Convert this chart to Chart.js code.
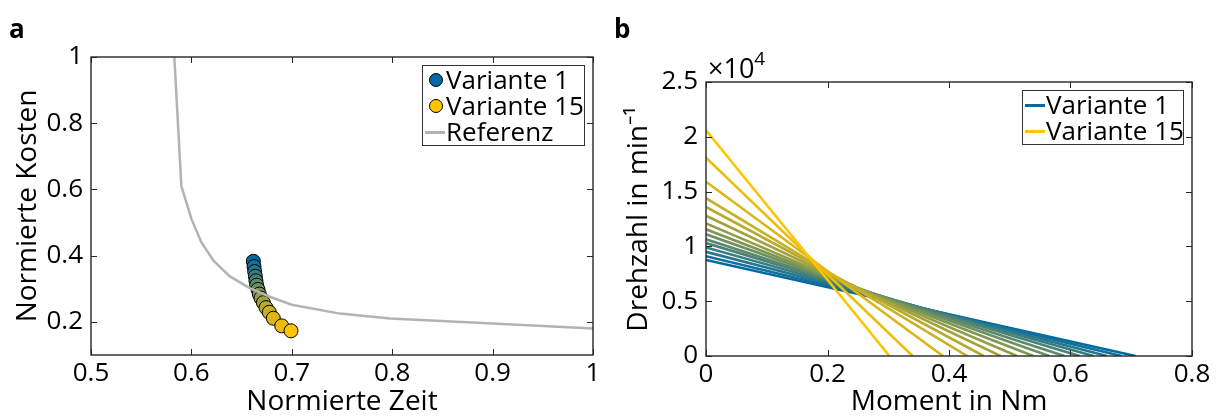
<!DOCTYPE html>
<html>
<head>
<meta charset="utf-8">
<script src="https://cdn.jsdelivr.net/npm/chart.js@4.4.0/dist/chart.umd.min.js"></script>
<style>
  body { margin: 0; width: 1219px; height: 419px; background: #fff; position: relative; overflow: hidden; font-family: "Open Sans", sans-serif; color: #000; }
  canvas { position: absolute; top: 0; }
  #chartA { left: 0; }
  #chartB { left: 610px; }
  .tag { position: absolute; font-weight: bold; font-size: 26px; line-height: 26px; }
  .legend { position: absolute; border: 1px solid #333; background: #fff; font-size: 26px; line-height: 26px; box-sizing: border-box; padding-top: 0px; }
  .legend .row { position: relative; padding-left: 23px; white-space: nowrap; height: 26px; }
  .legend .dot { position: absolute; left: 6px; top: 7px; width: 14px; height: 14px; border-radius: 50%; border: 1px solid #000; box-sizing: border-box; }
  .legend .ln { position: absolute; left: 2px; top: 13px; width: 20px; height: 3px; }
  .expo { position: absolute; left: 708px; top: 47px; font-size: 27px; line-height: 28px; }
  .expo sup { font-size: 19px; position: relative; top: -3px; }
</style>
</head>
<body>
<canvas id="chartA" width="610" height="419"></canvas>
<canvas id="chartB" width="609" height="419"></canvas>
<div class="tag" style="left:9px;top:15px">a</div>
<div class="tag" style="left:614px;top:15px">b</div>
<div class="expo">&times;10<sup>4</sup></div>

<div class="legend" style="left:422px;top:65px;width:163px;height:81px">
  <div class="row"><span class="dot" style="background:rgb(0,106,166)"></span>Variante 1</div>
  <div class="row"><span class="dot" style="background:rgb(255,195,0)"></span>Variante 15</div>
  <div class="row"><span class="ln" style="background:#b3b3b3"></span>Referenz</div>
</div>
<div class="legend" style="left:1022px;top:90px;width:162px;height:55px">
  <div class="row"><span class="ln" style="background:rgb(0,106,166)"></span>Variante 1</div>
  <div class="row"><span class="ln" style="background:rgb(255,195,0)"></span>Variante 15</div>
</div>

<script>
// --- panel a: normalised time vs. cost ---
const refTime = [0.583, 0.590, 0.600, 0.610, 0.622, 0.638, 0.658, 0.678, 0.700, 0.748, 0.798, 0.900, 1.000];
const refCost = [1.000, 0.610, 0.511, 0.440, 0.385, 0.338, 0.302, 0.276, 0.252, 0.225, 0.210, 0.195, 0.180];

const varTime = [0.6617, 0.6624, 0.6630, 0.6637, 0.6643, 0.6650, 0.6663, 0.6676, 0.6693, 0.6717, 0.6743, 0.6776, 0.6816, 0.6900, 0.6992];
const varCost = [0.383, 0.367, 0.352, 0.338, 0.324, 0.311, 0.298, 0.284, 0.272, 0.258, 0.243, 0.229, 0.211, 0.188, 0.173];

const timeTicks = [0.5, 0.6, 0.7, 0.8, 0.9, 1];
const costTicks = [0.2, 0.4, 0.6, 0.8, 1];

// --- panel b: speed/torque lines per variant (variant 1 .. 15) ---
const stallSpeed = [8760, 9100, 9500, 9900, 10300, 10650, 11100, 11560, 12100, 12800, 13600, 14400, 15900, 18100, 20600];
const maxTorque = [0.707, 0.684, 0.660, 0.638, 0.615, 0.590, 0.565, 0.539, 0.512, 0.485, 0.457, 0.430, 0.390, 0.340, 0.302];

const torqueTicks = [0, 0.2, 0.4, 0.6, 0.8];
const speedTicks = [0, 5000, 10000, 15000, 20000, 25000];

// colour ramp blue -> yellow
const blue = [0, 106, 166];
const yellow = [255, 195, 0];
function ramp(i, n) {
  const f = i / (n - 1);
  const c = blue.map((b, k) => Math.round(b + (yellow[k] - b) * f));
  return `rgb(${c[0]},${c[1]},${c[2]})`;
}
const varColors = varTime.map((_, i) => ramp(i, varTime.length));

const tickFont = { family: "Open Sans", size: 26 };
const titleFont = { family: "Open Sans", size: 28 };

// box around plot + inward ticks like the original
const boxTicks = {
  id: "boxTicks",
  afterDatasetsDraw(chart) {
    const { ctx, chartArea: a, scales } = chart;
    ctx.save();
    ctx.strokeStyle = "#262626";
    ctx.lineWidth = 1.4;
    ctx.strokeRect(a.left, a.top, a.right - a.left, a.bottom - a.top);
    ctx.lineWidth = 1;
    ctx.beginPath();
    scales.x.ticks.forEach(t => {
      const px = Math.round(scales.x.getPixelForValue(t.value)) + 0.5;
      ctx.moveTo(px, a.bottom); ctx.lineTo(px, a.bottom - 6);
      ctx.moveTo(px, a.top); ctx.lineTo(px, a.top + 6);
    });
    scales.y.ticks.forEach(t => {
      const py = Math.round(scales.y.getPixelForValue(t.value)) + 0.5;
      ctx.moveTo(a.left, py); ctx.lineTo(a.left + 6, py);
      ctx.moveTo(a.right, py); ctx.lineTo(a.right - 6, py);
    });
    ctx.stroke();
    ctx.restore();
  }
};

function axisX(min, max, ticks, title, h) {
  return {
    type: "linear", min: min, max: max,
    afterBuildTicks: s => { s.ticks = ticks.map(v => ({ value: v })); },
    ticks: { font: tickFont, color: "#000", padding: 3, maxRotation: 0, callback: v => String(v) },
    grid: { display: false, drawTicks: false },
    border: { display: false },
    title: { display: true, text: title, font: titleFont, color: "#000", padding: 0 },
    afterFit: s => { s.height = h; }
  };
}
function axisY(min, max, ticks, title, w, fmt) {
  return {
    type: "linear", min: min, max: max,
    afterBuildTicks: s => { s.ticks = ticks.map(v => ({ value: v })); },
    ticks: { font: tickFont, color: "#000", padding: 8, callback: fmt },
    grid: { display: false, drawTicks: false },
    border: { display: false },
    title: { display: true, text: title, font: titleFont, color: "#000", padding: 0 },
    afterFit: s => { s.width = w; }
  };
}

new Chart(document.getElementById("chartA"), {
  type: "scatter",
  data: {
    datasets: [
      {
        label: "Referenz",
        data: refTime.map((t, i) => ({ x: t, y: refCost[i] })),
        showLine: true,
        borderColor: "#b3b3b3",
        borderWidth: 2.5,
        pointRadius: 0,
        order: 0
      },
      {
        label: "Varianten",
        data: varTime.map((t, i) => ({ x: t, y: varCost[i] })),
        pointRadius: 7,
        pointBackgroundColor: varColors,
        pointBorderColor: "#000",
        pointBorderWidth: 1,
        order: 1
      }
    ]
  },
  options: {
    responsive: false,
    animation: false,
    layout: { padding: { left: 11, top: 57, right: 17, bottom: 0 } },
    plugins: { legend: { display: false }, tooltip: { enabled: false } },
    scales: {
      x: axisX(0.5, 1, timeTicks, "Normierte Zeit", 64),
      y: axisY(0.1, 1, costTicks, "Normierte Kosten", 80, v => String(v))
    }
  },
  plugins: [boxTicks]
});

new Chart(document.getElementById("chartB"), {
  type: "scatter",
  data: {
    datasets: stallSpeed.map((n0, i) => ({
      label: "Variante " + (i + 1),
      data: [{ x: 0, y: n0 }, { x: maxTorque[i], y: 0 }],
      showLine: true,
      borderColor: ramp(i, stallSpeed.length),
      borderWidth: 2.6,
      pointRadius: 0,
      order: stallSpeed.length - i
    }))
  },
  options: {
    responsive: false,
    animation: false,
    layout: { padding: { left: 12, top: 82, right: 27, bottom: 0 } },
    plugins: { legend: { display: false }, tooltip: { enabled: false } },
    scales: {
      x: axisX(0, 0.8, torqueTicks, "Moment in Nm", 63),
      y: axisY(0, 25000, speedTicks, "Drehzahl in min\u207B\u00B9", 84, v => String(v / 10000))
    }
  },
  plugins: [boxTicks]
});
</script>
</body>
</html>
